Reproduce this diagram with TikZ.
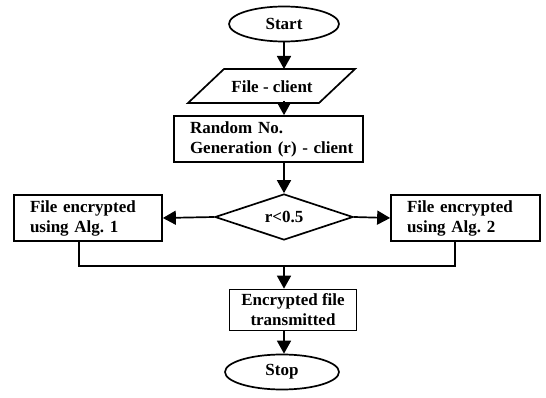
\documentclass[tikz,border=0pt]{standalone}
\usepackage{fontspec}
\setmainfont{Liberation Serif}
\usetikzlibrary{shapes.geometric,arrows.meta}
\frenchspacing
\begin{document}
\begin{tikzpicture}[x=1pt,y=-1pt,
  every node/.style={font=\fontsize{17}{20}\selectfont\bfseries, inner sep=0pt},
  line/.style={line width=1.7pt},
  flow/.style={line, -{Triangle[length=13pt,width=14pt]}},
  term/.style={line, draw, ellipse, minimum width=110pt, minimum height=35pt},
  proc/.style={line, draw, rectangle, align=left},
  decide/.style={line, draw, diamond, aspect=3.3, minimum width=138pt, minimum height=46pt}]
\useasboundingbox (0,0) rectangle (546,398);

% terminals, input, process and decision boxes
\node[term] (start) at (284,24) {Start};
\draw[line] (188,103) -- (224,69) -- (355,69) -- (319,103) -- cycle;
\node (input) at (272,87) {File - client};
\node[proc, minimum width=189pt, minimum height=46pt, text width=157pt] (rand) at (268.5,139)
  {Random No.\\\mbox{Generation (r) - client}};
\node[decide] (dec) at (284,217) {r<0.5};
\node[proc, minimum width=148pt, minimum height=46pt, text width=116pt] (alg1) at (88,218)
  {File encrypted\\using Alg. 1};
\node[proc, minimum width=149pt, minimum height=46pt, text width=117pt] (alg2) at (465.5,218)
  {File encrypted\\using Alg. 2};
\node[proc, align=center, minimum width=127pt, minimum height=41pt] (send) at (293,310)
  {Encrypted file\\transmitted};
\node[term, minimum width=114pt] (stop) at (282,372) {Stop};

% connectors
\coordinate (inTop) at (284,69);
\coordinate (inBot) at (284,101);
\coordinate (joinL) at (79,266);
\coordinate (joinR) at (455,266);
\coordinate (joinM) at (284,266);

\draw[flow] (start.south -| inTop) -- (inTop);
\draw[flow] (inBot) -- (rand.north -| inBot);
\draw[flow] (rand.south -| dec.north) -- (dec.north);
\draw[flow] (dec.west) -- (alg1.east);
\draw[flow] (dec.east) -- (alg2.west);
\draw[line] (alg1.south -| joinL) -- (joinL) -- (joinR) -- (alg2.south -| joinR);
\draw[flow] (joinM) -- (send.north -| joinM);
\draw[flow] (send.south -| joinM) -- (stop.north -| joinM);
\end{tikzpicture}
\end{document}
